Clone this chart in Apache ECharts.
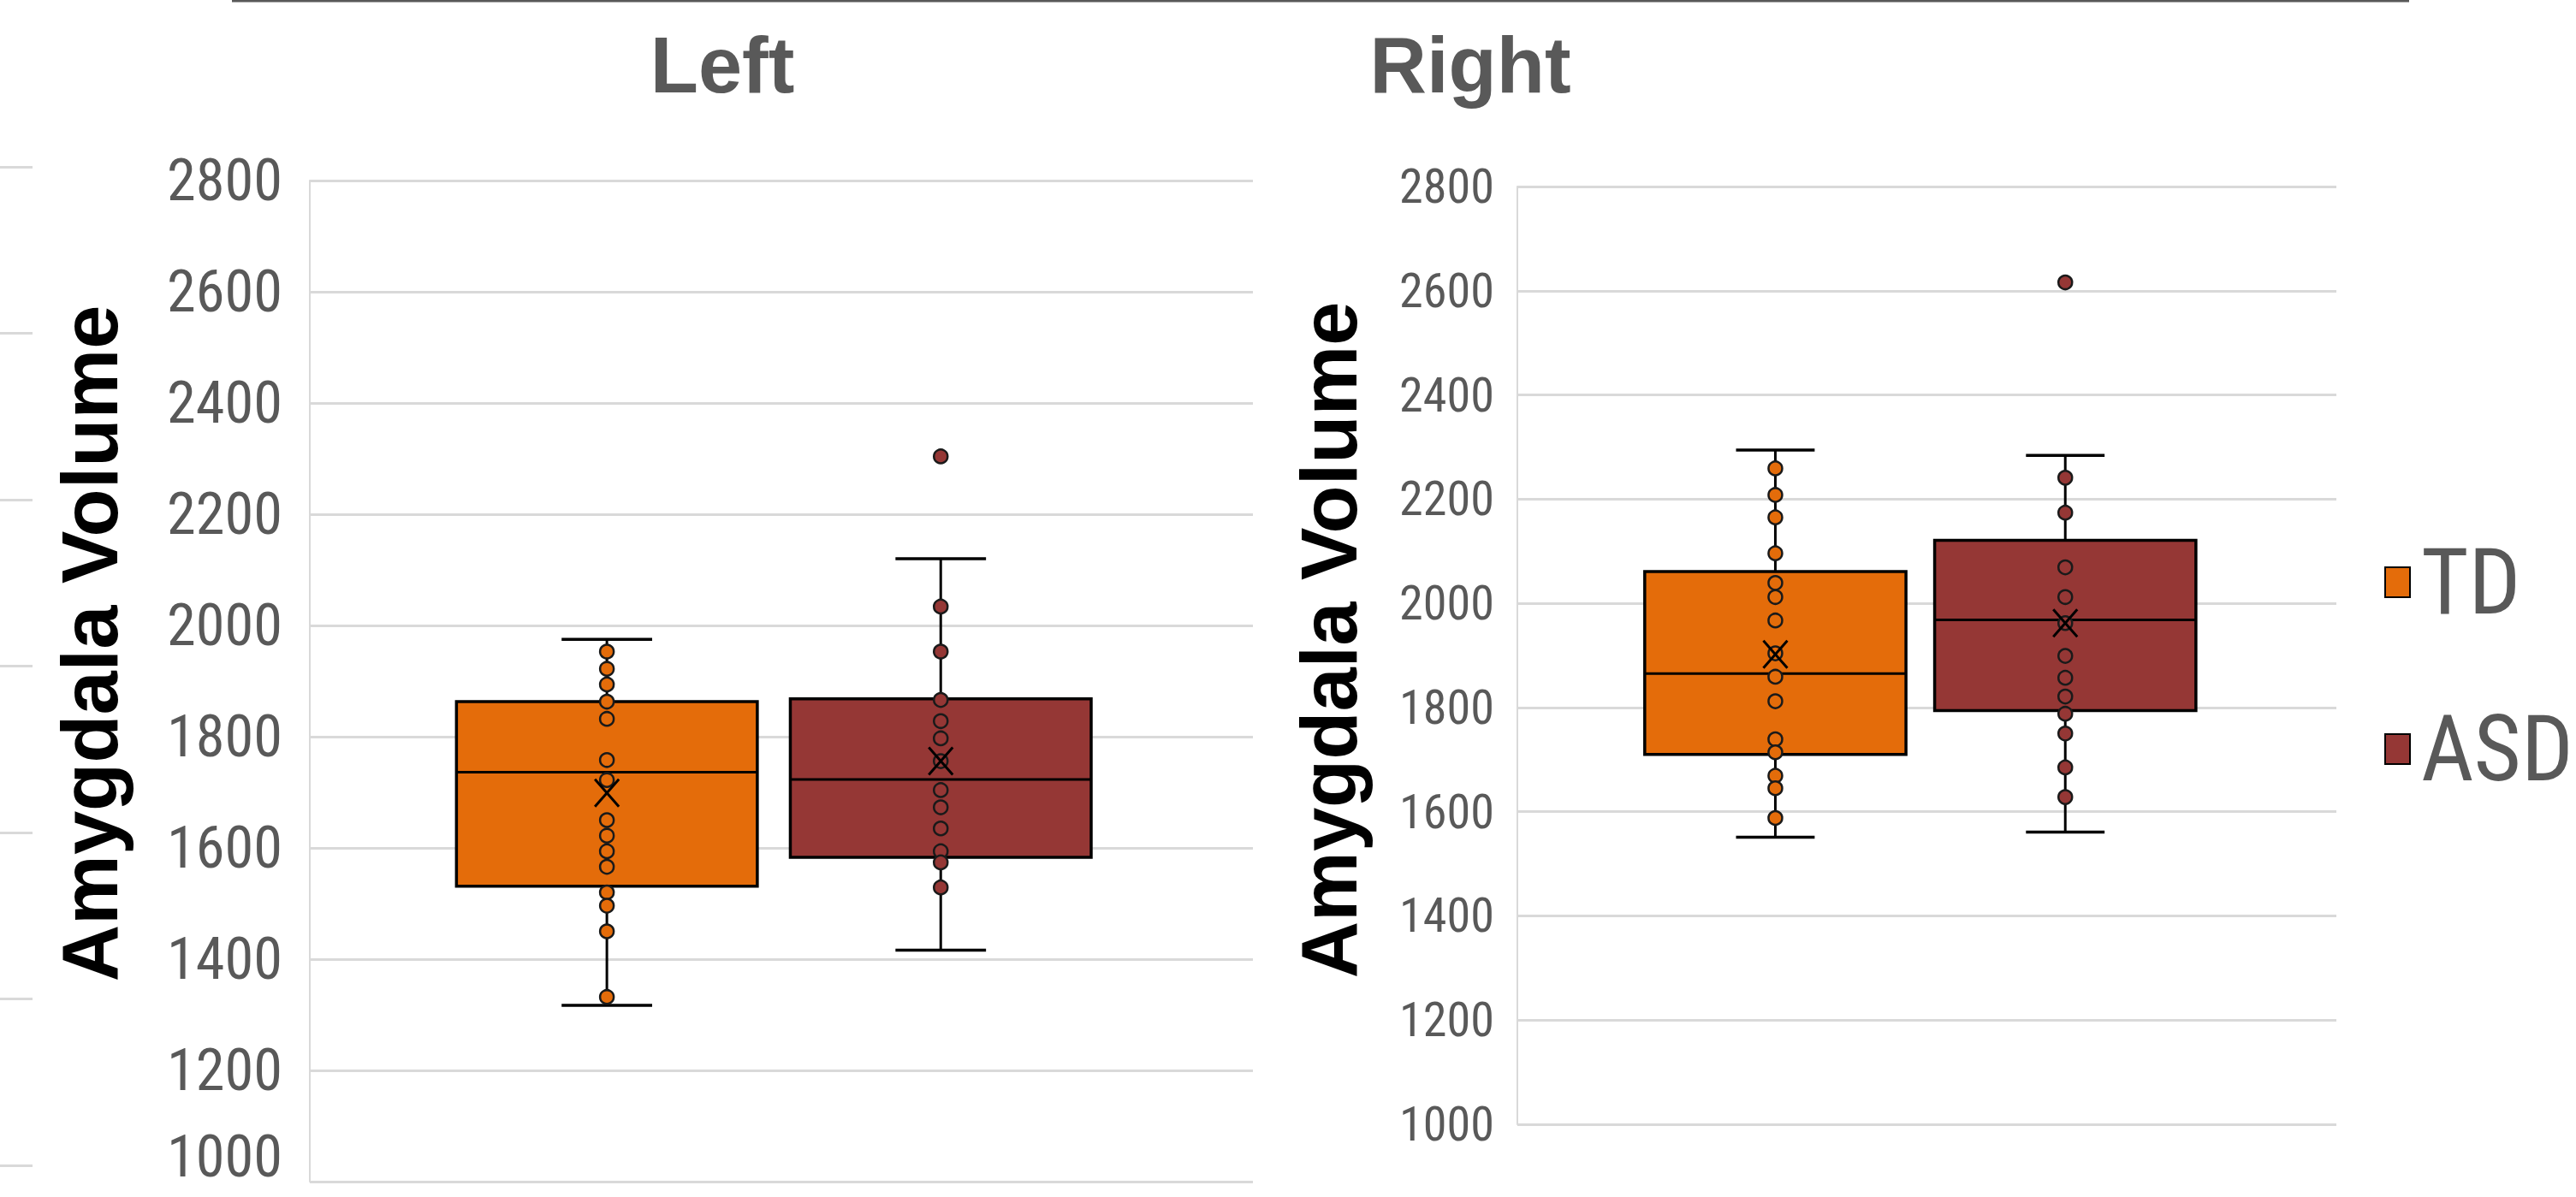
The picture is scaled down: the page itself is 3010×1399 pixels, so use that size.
<!DOCTYPE html>
<html>
<head>
<meta charset="utf-8">
<script src="https://cdn.jsdelivr.net/npm/echarts@6/dist/echarts.min.js"></script>
<style>
html,body{margin:0;padding:0;background:#ffffff;}
#chart{width:3010px;height:1399px;}
</style>
</head>
<body>
<div id="chart"></div>
<script>
// ---------- data ----------
const panelTitles = ['Left', 'Right'];
const groupNames = ['TD', 'ASD'];
const yAxisTitle = 'Amygdala Volume';
const yTicks = [1000, 1200, 1400, 1600, 1800, 2000, 2200, 2400, 2600, 2800];

// box stats: [lower whisker, Q1, median, Q3, upper whisker, mean]
const leftTDBox   = [1317, 1531, 1736, 1863, 1975, 1699];
const leftASDBox  = [1416, 1583, 1723, 1868, 2120, 1756];
const rightTDBox  = [1551, 1710, 1865, 2061, 2294, 1902];
const rightASDBox = [1561, 1794, 1968, 2121, 2284, 1962];

// individual points
const leftTDPoints   = [1953, 1922, 1894, 1863, 1832, 1758, 1722, 1650, 1622, 1594, 1566, 1520, 1496, 1450, 1332];
const leftASDPoints  = [2304, 2034, 1953, 1866, 1828, 1797, 1756, 1704, 1673, 1635, 1594, 1574, 1529];
const rightTDPoints  = [2259, 2208, 2165, 2096, 2039, 2012, 1967, 1904, 1859, 1812, 1739, 1714, 1669, 1645, 1588];
const rightASDPoints = [2616, 2241, 2174, 2069, 2012, 1962, 1899, 1857, 1821, 1788, 1750, 1685, 1628];

// ---------- font detection / fitting ----------
const mctx = document.createElement('canvas').getContext('2d');
function textW(font, t) { mctx.font = font; return mctx.measureText(t).width; }
function hasFont(f) {
  const t = 'ASD 2800 Amygdala Volume';
  return textW('72px "' + f + '", monospace', t) !== textW('72px monospace', t) ||
         textW('72px "' + f + '", serif', t) !== textW('72px serif', t);
}
const candidates = ['Roboto Condensed', 'Liberation Sans Narrow', 'DejaVu Sans Condensed', 'Liberation Sans'];
const available = candidates.filter(hasFont);
const narrowFamily = available.length ? available[0] : 'sans-serif';
const narrow = '"' + narrowFamily + '", sans-serif';
function fitSize(family, t, target) { return 100 * target / textW('100px ' + family, t); }
const leftLabelSize = fitSize(narrow, '2800', 135);
const rightLabelSize = fitSize(narrow, '2800', 111);
const legendSize = Math.min(fitSize(narrow, 'TD', 120), fitSize(narrow, 'ASD', 178));

// ---------- styles ----------
const colors = ['#E46C0A', '#953735'];
const groupOffset = [-0.185, 0.169];   // fraction of band width
const boxWidthFrac = 0.319;
const capWidthFrac = 0.096;
const bold = '"Liberation Sans", Arial, sans-serif';

function boxRender(g) {
  return function (params, api) {
    const band = api.size([1, 0])[0];
    const cx = api.coord([0, api.value(3)])[0] + groupOffset[g] * band;
    const y = v => api.coord([0, v])[1];
    const low = api.value(1), q1 = api.value(2), med = api.value(3), q3 = api.value(4), high = api.value(5);
    const w = boxWidthFrac * band, cw = capWidthFrac * band;
    const ls = { stroke: '#000', lineWidth: 3 };
    const cs = { stroke: '#000', lineWidth: 3.5 };
    return {
      type: 'group',
      children: [
        { type: 'line', shape: { x1: cx, y1: y(q3), x2: cx, y2: y(high) }, style: ls },
        { type: 'line', shape: { x1: cx, y1: y(q1), x2: cx, y2: y(low) }, style: ls },
        { type: 'line', shape: { x1: cx - cw / 2, y1: y(high), x2: cx + cw / 2, y2: y(high) }, style: cs },
        { type: 'line', shape: { x1: cx - cw / 2, y1: y(low), x2: cx + cw / 2, y2: y(low) }, style: cs },
        { type: 'rect', shape: { x: cx - w / 2, y: y(q3), width: w, height: y(q1) - y(q3) },
          style: { fill: colors[g], stroke: '#000', lineWidth: 3.5 } },
        { type: 'line', shape: { x1: cx - w / 2, y1: y(med), x2: cx + w / 2, y2: y(med) }, style: ls }
      ]
    };
  };
}
function meanRender(g) {
  return function (params, api) {
    const band = api.size([1, 0])[0];
    const p = api.coord([0, api.value(6)]);
    const cx = p[0] + groupOffset[g] * band, cy = p[1];
    const ls = { stroke: '#000', lineWidth: 3 };
    return {
      type: 'group',
      children: [
        { type: 'line', shape: { x1: cx - 14, y1: cy - 16, x2: cx + 14, y2: cy + 16 }, style: ls },
        { type: 'line', shape: { x1: cx - 14, y1: cy + 16, x2: cx + 14, y2: cy - 16 }, style: ls }
      ]
    };
  };
}
function pointRender(g) {
  return function (params, api) {
    const band = api.size([1, 0])[0];
    const p = api.coord([api.value(0), api.value(1)]);
    return {
      type: 'circle',
      shape: { cx: p[0] + groupOffset[g] * band, cy: p[1], r: 8 },
      style: { fill: colors[g], stroke: '#1a1a1a', lineWidth: 2.5 }
    };
  };
}

const boxes = [[leftTDBox, leftASDBox], [rightTDBox, rightASDBox]];
const points = [[leftTDPoints, leftASDPoints], [rightTDPoints, rightASDPoints]];

const series = [];
for (let p = 0; p < 2; p++) {
  for (let g = 0; g < 2; g++) {
    series.push({
      name: groupNames[g], type: 'custom', xAxisIndex: p, yAxisIndex: p, z: 2,
      itemStyle: { color: colors[g], borderColor: '#000', borderWidth: 2 },
      renderItem: boxRender(g), data: [[0].concat(boxes[p][g])], silent: true
    });
    series.push({
      name: groupNames[g] + ' points', type: 'custom', xAxisIndex: p, yAxisIndex: p, z: 3,
      itemStyle: { color: colors[g] },
      renderItem: pointRender(g), data: points[p][g].map(v => [0, v]), silent: true
    });
    series.push({
      name: groupNames[g] + ' mean', type: 'custom', xAxisIndex: p, yAxisIndex: p, z: 4,
      itemStyle: { color: '#000' },
      renderItem: meanRender(g), data: [[0].concat(boxes[p][g])], silent: true
    });
  }
}

function yAxisFor(gridIndex, fontSize, margin, lift) {
  return {
    type: 'value', gridIndex: gridIndex,
    min: yTicks[0], max: yTicks[yTicks.length - 1], interval: yTicks[1] - yTicks[0],
    axisLine: { show: true, lineStyle: { color: '#d9d9d9', width: 2 } },
    axisTick: { show: false },
    splitLine: { show: true, lineStyle: { color: '#d9d9d9', width: 3 } },
    axisLabel: {
      color: '#595959', fontSize: fontSize, fontFamily: narrow, margin: margin,
      formatter: v => (lift && v === yTicks[0]) ? '{low|' + v + '}' : String(v),
      rich: { low: { color: '#595959', fontSize: fontSize, fontFamily: narrow, padding: [0, 0, 58, 0] } }
    }
  };
}

const option = {
  animation: false,
  backgroundColor: '#ffffff',
  grid: [
    { left: 362, top: 211, width: 1102, height: 1170, outerBoundsMode: 'none', containLabel: false },
    { left: 1773, top: 218, width: 957, height: 1096, outerBoundsMode: 'none', containLabel: false },
    { left: 0, top: 195, width: 38, height: 1167, outerBoundsMode: 'none', containLabel: false }
  ],
  xAxis: [
    { type: 'category', gridIndex: 0, data: [''], axisLine: { show: false }, axisTick: { show: false }, axisLabel: { show: false } },
    { type: 'category', gridIndex: 1, data: [''], axisLine: { show: false }, axisTick: { show: false }, axisLabel: { show: false } },
    { type: 'category', gridIndex: 2, data: [''], show: false }
  ],
  yAxis: [
    yAxisFor(0, leftLabelSize, 32, true),
    yAxisFor(1, rightLabelSize, 27, false),
    { type: 'value', gridIndex: 2, min: 0, max: 6, interval: 1,
      axisLine: { show: false }, axisTick: { show: false }, axisLabel: { show: false },
      splitLine: { show: true, lineStyle: { color: '#d9d9d9', width: 3 } } }
  ],
  legend: {
    data: groupNames, orient: 'vertical', left: 2781, top: 622,
    itemWidth: 29, itemHeight: 35, itemGap: 88, icon: 'rect', selectedMode: false,
    itemStyle: { borderColor: '#000', borderWidth: 2 },
    textStyle: { color: '#595959', fontSize: legendSize, lineHeight: 100, fontFamily: narrow, padding: [0, 0, 0, 8] }
  },
  graphic: [
    { type: 'line', shape: { x1: 271, y1: 1, x2: 2815, y2: 1 }, style: { stroke: '#595959', lineWidth: 3 }, silent: true },
    { type: 'text', x: 844, y: 76, silent: true,
      style: { text: panelTitles[0], textAlign: 'center', textVerticalAlign: 'middle', fill: '#595959', font: 'bold 92px ' + bold } },
    { type: 'text', x: 1718, y: 76, silent: true,
      style: { text: panelTitles[1], textAlign: 'center', textVerticalAlign: 'middle', fill: '#595959', font: 'bold 92px ' + bold } },
    { type: 'text', x: 105, y: 752, rotation: Math.PI / 2, silent: true,
      style: { text: yAxisTitle, textAlign: 'center', textVerticalAlign: 'middle', fill: '#000', font: 'bold 92px ' + bold } },
    { type: 'text', x: 1553, y: 748, rotation: Math.PI / 2, silent: true,
      style: { text: yAxisTitle, textAlign: 'center', textVerticalAlign: 'middle', fill: '#000', font: 'bold 92px ' + bold } }
  ],
  series: series
};

const chart = echarts.init(document.getElementById('chart'), null, { renderer: 'svg', width: 3010, height: 1399 });
chart.setOption(option);
</script>
</body>
</html>
